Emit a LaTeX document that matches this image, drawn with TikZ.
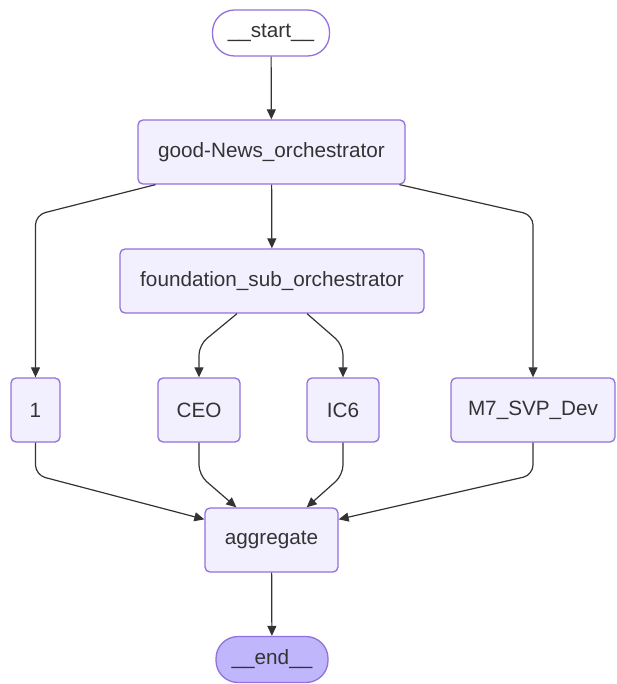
\documentclass[tikz,border=0pt]{standalone}
\usepackage{fontspec}
\setmainfont{Liberation Sans}
\usetikzlibrary{arrows.meta,calc}
\definecolor{nodefill}{HTML}{F2F0FF}
\definecolor{nodeline}{HTML}{9370DB}
\definecolor{endfill}{HTML}{BFB6FC}
\definecolor{ink}{HTML}{333333}
\tikzset{
  box/.style={draw=nodeline, line width=1.3pt, fill=nodefill, rounded corners=5pt,
    text=ink, font=\fontsize{20.7}{24}\selectfont, inner sep=0pt, minimum height=64pt},
  pill/.style={box, rounded corners=22pt, minimum height=46pt},
  edge/.style={draw=ink, line width=1.2pt, rounded corners=10pt,
    -{Triangle[length=10pt,width=9pt]}}
}
\begin{document}
\begin{tikzpicture}[x=1pt,y=-1pt]
\useasboundingbox (0,0) rectangle (616,684);
% nodes
\node[pill, fill=white, minimum width=117pt] (start) at (271,33) {\_\_start\_\_};
\node[box, minimum width=267pt] (good) at (271.5,152) {good-News\_orchestrator};
\node[box, minimum width=304pt] (found) at (272,281) {foundation\_sub\_orchestrator};
\node[box, minimum width=49pt] (one) at (35.5,410) {1};
\node[box, minimum width=82pt] (ceo) at (199,410) {CEO};
\node[box, minimum width=72pt] (ic) at (343,410) {IC6};
\node[box, minimum width=164pt] (m7) at (533,410) {M7\_SVP\_Dev};
\node[box, minimum width=133pt] (agg) at (271.5,540) {aggregate};
\node[pill, fill=endfill, minimum width=112pt] (end) at (272,659.5) {\_\_end\_\_};
% connectors
\draw[edge] (start) -- (good);
\draw[edge] (good) -- (found);
\draw[edge] ([xshift=-116pt]good.south) -- (one.north |- 0,215) -- (one.north);
\draw[edge] ([xshift=128pt]good.south) -- (m7.north |- 0,215) -- (m7.north);
\draw[edge] ([xshift=-35pt]found.south) -- (ceo.north |- 0,345) -- (ceo.north);
\draw[edge] ([xshift=35pt]found.south) -- (ic.north |- 0,345) -- (ic.north);
\draw[edge] (one.south) -- (one.south |- 0,475) -- ([yshift=-12pt]agg.north west);
\draw[edge] (ceo.south) -- (ceo.south |- 0,475) -- ([xshift=32pt]agg.north west);
\draw[edge] (ic.south) -- (ic.south |- 0,475) -- ([xshift=-32pt]agg.north east);
\draw[edge] (m7.south) -- (m7.south |- 0,475) -- ([yshift=-12pt]agg.north east);
\draw[edge] (agg) -- (end);
\end{tikzpicture}
\end{document}
